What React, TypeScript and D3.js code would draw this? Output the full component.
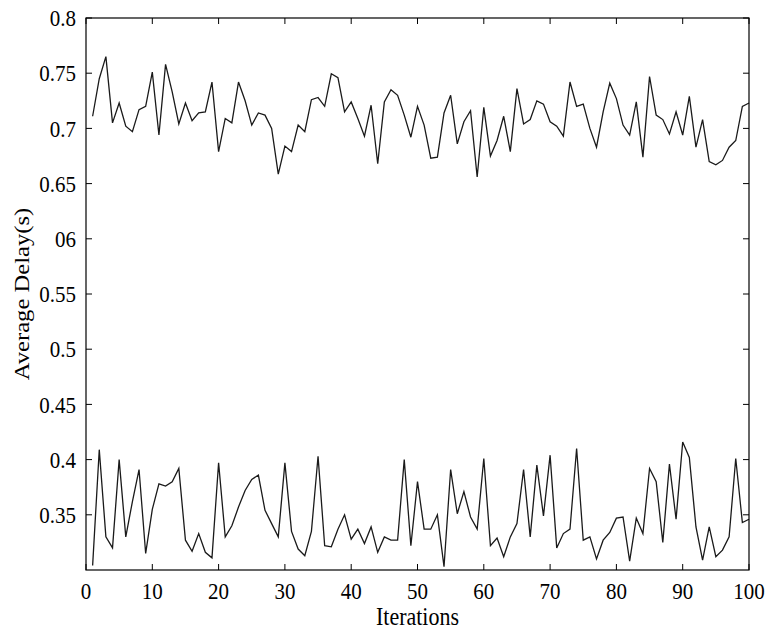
import React from "react";
import * as d3 from "d3";

// upper series (iterations 1..100)
const upperDelay = [
  0.711, 0.745, 0.765, 0.705, 0.723, 0.702, 0.697, 0.717, 0.72, 0.751,
  0.694, 0.758, 0.733, 0.704, 0.723, 0.707, 0.714, 0.715, 0.742, 0.679,
  0.709, 0.705, 0.742, 0.725, 0.703, 0.714, 0.712, 0.7, 0.6585, 0.684,
  0.679, 0.703, 0.697, 0.726, 0.728, 0.72, 0.7495, 0.746, 0.715, 0.724,
  0.709, 0.693, 0.721, 0.668, 0.724, 0.735, 0.73, 0.712, 0.692, 0.72,
  0.703, 0.673, 0.674, 0.714, 0.73, 0.686, 0.706, 0.716, 0.656, 0.719,
  0.675, 0.689, 0.711, 0.679, 0.736, 0.704, 0.708, 0.725, 0.722, 0.706,
  0.702, 0.693, 0.742, 0.72, 0.722, 0.7, 0.683, 0.715, 0.741, 0.727,
  0.703, 0.694, 0.724, 0.674, 0.747, 0.712, 0.708, 0.695, 0.715, 0.694,
  0.729, 0.683, 0.708, 0.67, 0.667, 0.671, 0.683, 0.689, 0.72, 0.723,
];

// lower series (iterations 1..100)
const lowerDelay = [
  0.304, 0.409, 0.33, 0.32, 0.4, 0.33, 0.362, 0.391, 0.315, 0.355,
  0.378, 0.376, 0.38, 0.392, 0.327, 0.317, 0.333, 0.316, 0.311, 0.397,
  0.33, 0.34, 0.357, 0.372, 0.382, 0.386, 0.354, 0.342, 0.33, 0.397,
  0.335, 0.319, 0.313, 0.335, 0.403, 0.322, 0.321, 0.337, 0.35, 0.328,
  0.337, 0.324, 0.339, 0.316, 0.33, 0.327, 0.327, 0.4, 0.322, 0.38,
  0.337, 0.337, 0.35, 0.303, 0.391, 0.351, 0.371, 0.348, 0.337, 0.401,
  0.322, 0.329, 0.312, 0.33, 0.342, 0.391, 0.33, 0.395, 0.349, 0.404,
  0.32, 0.333, 0.337, 0.41, 0.327, 0.33, 0.31, 0.327, 0.334, 0.347,
  0.348, 0.308, 0.347, 0.333, 0.392, 0.38, 0.325, 0.396, 0.346, 0.416,
  0.402, 0.339, 0.309, 0.339, 0.312, 0.318, 0.33, 0.401, 0.343, 0.346,
];

const xTickValues = [0, 10, 20, 30, 40, 50, 60, 70, 80, 90, 100];
const yTickValues = [0.35, 0.4, 0.45, 0.5, 0.55, 0.6, 0.65, 0.7, 0.75, 0.8];
const yTickLabels = ["0.35", "0.4", "0.45", "0.5", "0.55", "06", "0.65", "0.7", "0.75", "0.8"];

const W = 769;
const H = 630;
const margin = { top: 18, right: 20, bottom: 60, left: 86 };
const font = "'Liberation Serif', 'Times New Roman', serif";
const stretch = 1.12; // the source picture is a bit taller than wide

export default function App() {
  const x = d3.scaleLinear().domain([0, 100]).range([margin.left, W - margin.right]);
  const y = d3.scaleLinear().domain([0.3, 0.8]).range([H - margin.bottom, margin.top]);

  const line = d3
    .line<number>()
    .x((_, i) => x(i + 1))
    .y((d) => y(d));

  const x0 = x(0), x1 = x(100), yb = y(0.3), yt = y(0.8);
  const tick = 6;

  return (
    <svg width={W} height={H} style={{ position: "absolute", left: 0, top: 0, background: "#fff" }}>
      {/* series */}
      <path d={line(upperDelay) ?? ""} fill="none" stroke="#1a1a1a" strokeWidth={1.3} />
      <path d={line(lowerDelay) ?? ""} fill="none" stroke="#1a1a1a" strokeWidth={1.3} />

      {/* box */}
      <rect x={x0} y={yt} width={x1 - x0} height={yb - yt} fill="none" stroke="#000" strokeWidth={1.2} />

      {/* x ticks, inward on bottom and top */}
      {xTickValues.map((v) => (
        <g key={"x" + v}>
          <line x1={x(v)} x2={x(v)} y1={yb} y2={yb - tick} stroke="#000" />
          <line x1={x(v)} x2={x(v)} y1={yt} y2={yt + tick} stroke="#000" />
          <text
            transform={`translate(${x(v)},${yb + 29}) scale(1,${stretch})`}
            textAnchor="middle"
            fontFamily={font}
            fontSize={21}
            fill="#000"
          >
            {v}
          </text>
        </g>
      ))}

      {/* y ticks, inward on left and right */}
      {yTickValues.map((v, i) => (
        <g key={"y" + v}>
          <line x1={x0} x2={x0 + tick} y1={y(v)} y2={y(v)} stroke="#000" />
          <line x1={x1} x2={x1 - tick} y1={y(v)} y2={y(v)} stroke="#000" />
          <text
            transform={`translate(${x0 - 10},${y(v)}) scale(1,${stretch})`}
            textAnchor="end"
            dy="0.35em"
            fontFamily={font}
            fontSize={21}
            fill="#000"
          >
            {yTickLabels[i]}
          </text>
        </g>
      ))}

      {/* axis titles */}
      <text
        transform={`translate(${(x0 + x1) / 2},${H - 5}) scale(1,${stretch})`}
        textAnchor="middle"
        fontFamily={font}
        fontSize={22}
        fill="#000"
      >
        Iterations
      </text>
      <text
        transform={`translate(29,${(yt + yb) / 2}) rotate(-90) scale(${stretch},1)`}
        textAnchor="middle"
        fontFamily={font}
        fontSize={22}
        fill="#000"
      >
        Average Delay(s)
      </text>
    </svg>
  );
}
